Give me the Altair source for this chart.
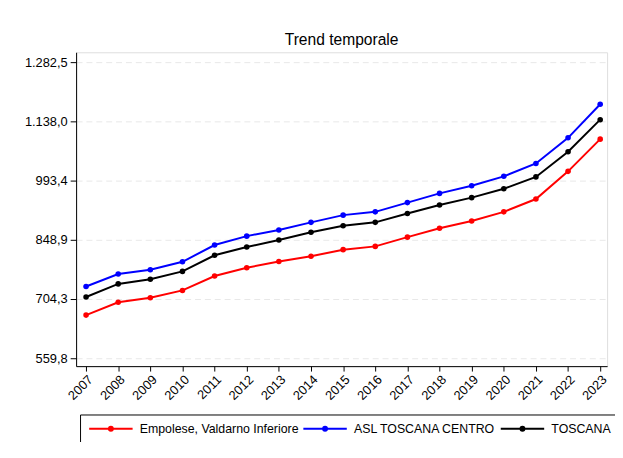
import altair as alt
import pandas as pd

years = list(range(2007, 2024))
series_names = ["Empolese, Valdarno Inferiore", "ASL TOSCANA CENTRO", "TOSCANA"]
empolese = [665.1, 696.4, 707.5, 725.3, 760.5, 780.7, 795.9, 808.7, 824.8, 832.8,
            855.4, 877.1, 894.7, 917.1, 948.4, 1015.9, 1094.6]
asl_centro = [734.9, 765.3, 775.9, 795.2, 836.1, 857.8, 873.0, 891.5, 909.1, 917.1,
              939.7, 962.1, 980.7, 1003.8, 1035.1, 1097.8, 1179.7]
toscana = [709.2, 741.2, 752.5, 771.8, 811.1, 831.3, 848.2, 867.5, 883.1, 891.5,
           913.2, 933.9, 951.8, 973.5, 1002.4, 1064.0, 1142.1]
y_ticks = [559.8, 704.3, 848.9, 993.4, 1138.0, 1282.5]
colors = ["#ff0000", "#0000ff", "#000000"]

rows = []
for name, vals in zip(series_names, [empolese, asl_centro, toscana]):
    for y, v in zip(years, vals):
        rows.append({"anno": y, "valore": v, "serie": name})
df = pd.DataFrame(rows)

FONT = "Liberation Sans"

color_scale = alt.Scale(domain=series_names, range=colors)
legend = alt.Legend(
    title=None,
    orient="none",
    legendX=4,
    legendY=367,
    direction="horizontal",
    symbolType="M-1,0L7.8,0M3.8,0A0.4,0.4,0,1,1,3.0,0A0.4,0.4,0,1,1,3.8,0",
    symbolSize=100,
    symbolStrokeWidth=2,
    labelFont=FONT,
    labelFontSize=12.5,
    labelColor="#000000",
    labelOffset=40,
    columnPadding=0,
    padding=8,
    strokeColor="#000000",
    labelLimit=300,
)

x_enc = alt.X(
    "anno:Q",
    scale=alt.Scale(domain=[2006.69, 2023.215], nice=False, zero=False),
    axis=alt.Axis(values=years, format="d", labelAngle=315, title=None, grid=False,
                  labelFont=FONT, labelFontSize=13, labelColor="#000000",
                  domainColor="#000000", tickColor="#000000", tickSize=5,
                  labelPadding=2),
)
y_enc = alt.Y(
    "valore:Q",
    scale=alt.Scale(domain=[540.5, 1306.6], nice=False, zero=False),
    axis=alt.Axis(values=y_ticks, title=None, grid=True, gridColor="#e8e8e8",
                  gridDash=[6, 4], gridWidth=1,
                  labelExpr="replace(replace(replace(format(datum.value, ',.1f'), ',', '#'), '.', ','), '#', '.')",
                  labelFont=FONT, labelFontSize=13, labelColor="#000000",
                  domainColor="#000000", tickColor="#000000", tickSize=6,
                  labelPadding=3),
)

base = alt.Chart(df)
lines = base.mark_line(strokeWidth=2).encode(
    x=x_enc, y=y_enc,
    color=alt.Color("serie:N", scale=color_scale, legend=legend, sort=series_names),
)
points = base.mark_point(filled=True, size=32, opacity=1).encode(
    x=x_enc, y=y_enc,
    color=alt.Color("serie:N", scale=color_scale, legend=legend, sort=series_names),
)

chart = alt.layer(lines, points).properties(
    width=538,
    height=318,
    title=alt.TitleParams("Trend temporale", font=FONT, fontSize=15.8, fontWeight="normal",
                          color="#000000", anchor="middle", offset=4),
    autosize=alt.AutoSizeParams(type="none"),
    padding={"left": 69, "top": 42, "right": 8, "bottom": 74},
).configure_view(stroke=None).configure(background="#ffffff")

chart.save("out.html", embed_options={"renderer": "svg", "actions": False})
